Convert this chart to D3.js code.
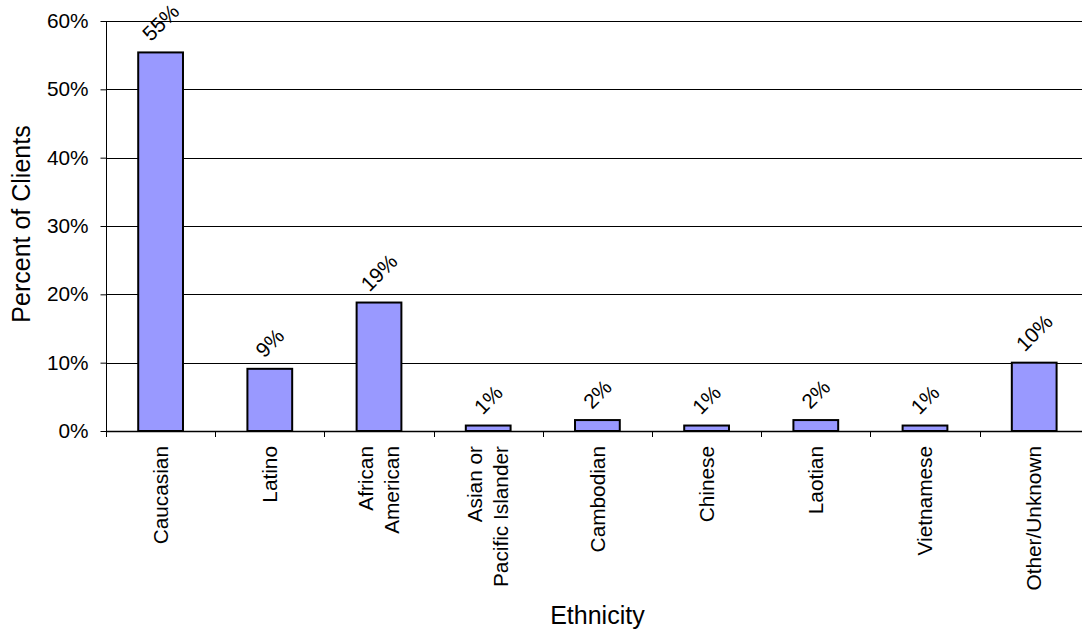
<!DOCTYPE html>
<html>
<head>
<meta charset="utf-8">
<script src="https://cdn.jsdelivr.net/npm/d3@7"></script>
<style>
  html, body { margin: 0; padding: 0; background: #fff; }
  svg { display: block; font-family: "Liberation Sans", Arial, sans-serif; }
</style>
</head>
<body>
<svg id="chart" width="1082" height="633"></svg>
<script>
// Client ethnicity breakdown (share of clients)
const categories = [
  "Caucasian",
  "Latino",
  "African\nAmerican",
  "Asian or\nPacific Islander",
  "Cambodian",
  "Chinese",
  "Laotian",
  "Vietnamese",
  "Other/Unknown"
];
const shares = [0.554, 0.091, 0.188, 0.008, 0.016, 0.008, 0.016, 0.008, 0.100];
const yTicks = [0, 0.1, 0.2, 0.3, 0.4, 0.5, 0.6];
const xTitle = "Ethnicity";
const yTitle = "Percent of Clients";

const svg = d3.select("#chart");
const plot = { left: 106, top: 21, bandStep: 109.2, bottom: 431 };
const plotRight = plot.left + plot.bandStep * categories.length;

const x = d3.scaleBand()
  .domain(categories)
  .range([plot.left, plotRight])
  .padding(0);

const y = d3.scaleLinear()
  .domain([0, 0.6])
  .range([plot.bottom, plot.top]);

const tickFont = 20.8;
const titleFont = 25;

// horizontal gridlines
svg.append("g")
  .selectAll("line")
  .data(yTicks.filter(t => t > 0))
  .join("line")
  .attr("x1", plot.left)
  .attr("x2", plotRight)
  .attr("y1", d => Math.round(y(d)) + 0.5)
  .attr("y2", d => Math.round(y(d)) + 0.5)
  .attr("stroke", "#000")
  .attr("stroke-width", 1);

// bars
const barFrac = 0.41;
svg.append("g")
  .selectAll("rect")
  .data(shares)
  .join("rect")
  .attr("x", (d, i) => x(categories[i]) + x.bandwidth() * (1 - barFrac) / 2)
  .attr("width", x.bandwidth() * barFrac)
  .attr("y", d => y(d))
  .attr("height", d => y(0) - y(d))
  .attr("fill", "#9999ff")
  .attr("stroke", "#000")
  .attr("stroke-width", 2);

// y axis
const yAxis = svg.append("g")
  .attr("transform", `translate(${plot.left + 0.5},0)`)
  .call(d3.axisLeft(y)
    .tickValues(yTicks)
    .tickFormat(d3.format(".0%"))
    .tickSize(6)
    .tickPadding(12));
yAxis.select(".domain").remove();
yAxis.append("line")
  .attr("x1", 0).attr("x2", 0)
  .attr("y1", plot.top).attr("y2", plot.bottom + 6)
  .attr("stroke", "#000");
yAxis.selectAll(".tick line").attr("stroke", "#000");
yAxis.selectAll(".tick text")
  .attr("font-size", tickFont)
  .attr("fill", "#000")
  .attr("font-family", "Liberation Sans, Arial, sans-serif");

// x axis: baseline and band-boundary ticks
const xAxisG = svg.append("g");
xAxisG.append("line")
  .attr("x1", plot.left).attr("x2", plotRight)
  .attr("y1", plot.bottom + 0.5).attr("y2", plot.bottom + 0.5)
  .attr("stroke", "#000").attr("stroke-width", 1.5);
xAxisG.selectAll("line.tk")
  .data(categories)
  .join("line")
  .attr("class", "tk")
  .attr("x1", d => Math.round(x(d)) + 0.5)
  .attr("x2", d => Math.round(x(d)) + 0.5)
  .attr("y1", plot.bottom)
  .attr("y2", plot.bottom + 6)
  .attr("stroke", "#000");

// category labels (rotated, possibly two lines)
const lineGap = 26;
xAxisG.selectAll("text.cat")
  .data(categories)
  .join("text")
  .attr("class", "cat")
  .attr("transform", d => `translate(${x(d) + x.bandwidth() / 2},${plot.bottom + 15}) rotate(-90)`)
  .attr("text-anchor", "end")
  .attr("font-size", tickFont)
  .attr("fill", "#000")
  .each(function (d) {
    const lines = d.split("\n");
    const t = d3.select(this);
    lines.forEach((ln, i) => {
      t.append("tspan")
        .attr("x", 0)
        .attr("y", (i - (lines.length - 1) / 2) * lineGap + tickFont * 0.35)
        .text(ln);
    });
  });

// value labels above bars, rotated 45 degrees
const fmt = d3.format(".0%");
svg.append("g")
  .selectAll("text")
  .data(shares)
  .join("text")
  .attr("text-anchor", "middle")
  .attr("font-size", tickFont)
  .attr("fill", "#000")
  .attr("dy", "0.35em")
  .text(d => fmt(d))
  .attr("transform", function (d, i) {
    const len = this.getComputedTextLength();
    const off = 10 + (len + tickFont * 0.72) / (2 * Math.SQRT2);
    return `translate(${x(categories[i]) + x.bandwidth() / 2},${y(d) - off}) rotate(-45)`;
  });

// axis titles
svg.append("text")
  .attr("x", (plot.left + plotRight) / 2)
  .attr("y", 624)
  .attr("text-anchor", "middle")
  .attr("font-size", titleFont)
  .attr("fill", "#000")
  .text(xTitle);

svg.append("text")
  .attr("transform", `translate(30,${(plot.top + plot.bottom) / 2 - 2}) rotate(-90)`)
  .attr("text-anchor", "middle")
  .attr("font-size", titleFont)
  .attr("fill", "#000")
  .text(yTitle);
</script>
</body>
</html>
